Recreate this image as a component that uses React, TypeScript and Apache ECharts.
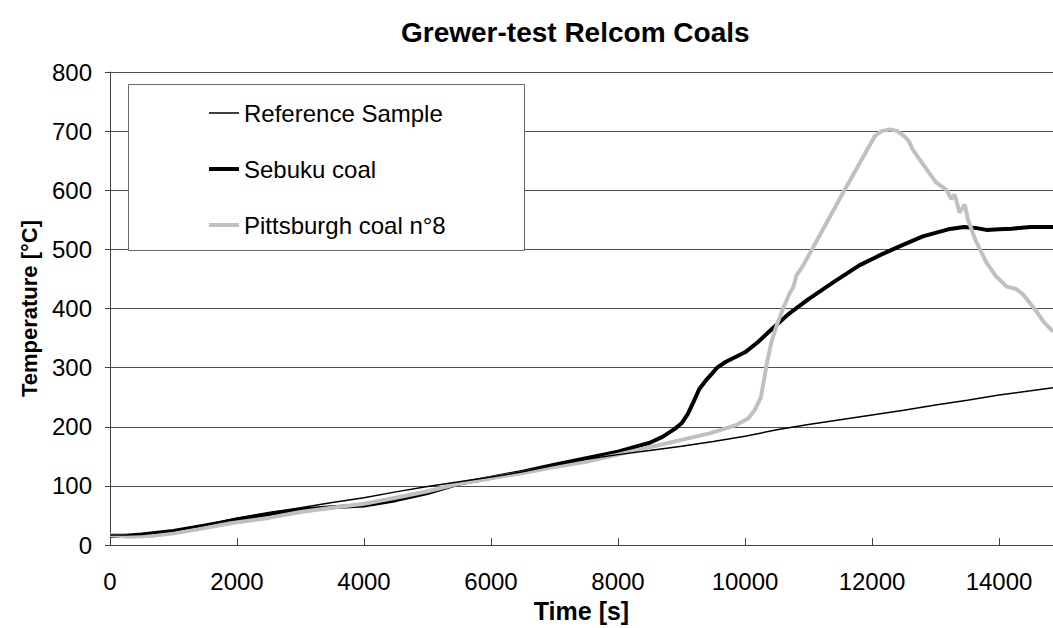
import React, { useEffect, useRef } from "react";
import * as echarts from "echarts";

const titleText = "Grewer-test Relcom Coals";
const xName = "Time [s]";
const yName = "Temperature [°C]";
const seriesNames = ["Reference Sample", "Sebuku coal", "Pittsburgh coal n°8"];

const refTime = [0, 250, 500, 1000, 1500, 2000, 2500, 3000, 3500, 4000, 4500, 5000, 5500, 6000, 6500, 7000, 7500, 8000, 8500, 9000, 9500, 10000, 10500, 11000, 11500, 12000, 12500, 13000, 13500, 14000, 14500, 14850];
const refTemp = [17, 17, 18, 24, 34, 46, 55, 63, 72, 80, 90, 99, 107, 115, 124, 135, 145, 153, 160, 167, 175, 184, 195, 204, 212, 220, 228, 237, 245, 254, 261, 266];

const sebTime = [0, 250, 500, 1000, 1500, 2000, 2500, 3000, 3500, 4000, 4500, 5000, 5500, 6000, 6500, 7000, 7500, 8000, 8500, 8700, 8900, 9000, 9100, 9180, 9280, 9380, 9480, 9560, 9700, 9850, 10000, 10200, 10450, 10700, 11000, 11400, 11800, 12100, 12450, 12800, 13200, 13450, 13650, 13800, 14000, 14200, 14500, 14850];
const sebTemp = [16, 16, 18, 24, 33, 43, 52, 60, 64, 67, 76, 88, 104, 114, 124, 136, 147, 158, 173, 183, 197, 206, 222, 240, 264, 278, 290, 300, 310, 318, 326, 343, 368, 392, 416, 445, 473, 489, 506, 522, 534, 538, 536, 533, 534, 535, 538, 538];

const pitTime = [0, 300, 700, 1000, 1400, 1900, 2500, 3000, 3500, 4000, 4500, 5000, 5500, 6000, 6500, 7000, 7500, 8000, 8600, 9000, 9440, 9860, 10050, 10150, 10250, 10300, 10350, 10420, 10500, 10600, 10700, 10760, 10810, 10900, 11060, 11300, 11540, 11800, 12040, 12150, 12280, 12400, 12510, 12580, 12630, 12750, 13010, 13170, 13250, 13300, 13380, 13460, 13510, 13620, 13800, 13950, 14120, 14270, 14370, 14590, 14700, 14850];
const pitTemp = [17, 14, 16, 20, 27, 37, 46, 56, 63, 70, 80, 91, 104, 113, 122, 132, 141, 153, 168, 178, 189, 203, 214, 228, 250, 280, 311, 345, 372, 400, 425, 436, 456, 470, 501, 548, 595, 645, 691, 700, 703, 700, 691, 683, 671, 652, 613, 601, 585, 593, 562, 576, 551, 518, 478, 455, 437, 433, 425, 395, 378, 361];

const FONT = '"Liberation Sans", Arial, sans-serif';

export default function App() {
  const ref = useRef<HTMLDivElement>(null);
  useEffect(() => {
    if (!ref.current) return;
    const chart = echarts.init(ref.current, null, { renderer: "svg" });
    const pair = (ts: number[], vs: number[]) => ts.map((t, i) => [t, vs[i]]);
    chart.setOption({
      animation: false,
      backgroundColor: "#fff",
      textStyle: { fontFamily: FONT, color: "#000" },
      title: {
        text: titleText,
        left: 396,
        top: 13,
        textStyle: { fontFamily: FONT, fontSize: 28, fontWeight: "bold", color: "#000" },
      },
      grid: { left: 110, top: 72, right: 0, bottom: 79, containLabel: false },
      graphic: [
        {
          type: "rect",
          z: 3,
          shape: { x: 128.5, y: 84.5, width: 396, height: 166 },
          style: { fill: "#fff", stroke: "#666", lineWidth: 1 },
        },
      ],
      legend: {
        z: 5,
        orient: "vertical",
        left: 202,
        top: 95,
        padding: 5,
        itemWidth: 30,
        itemHeight: 14,
        itemGap: 30,
        data: [
          { name: seriesNames[0], lineStyle: { width: 1.5, color: "#000" } },
          { name: seriesNames[1], lineStyle: { width: 4, color: "#000" } },
          { name: seriesNames[2], lineStyle: { width: 4, color: "#c0c0c0" } },
        ],
        itemStyle: { opacity: 0 },
        textStyle: { fontFamily: FONT, fontSize: 24, color: "#000", lineHeight: 26 },
      },
      xAxis: {
        type: "value",
        min: 0,
        max: 14850,
        interval: 2000,
        name: xName,
        nameLocation: "middle",
        nameGap: 44,
        nameTextStyle: { fontFamily: FONT, fontSize: 25, fontWeight: "bold", color: "#000" },
        axisLine: { show: true, lineStyle: { color: "#404040", width: 1 } },
        axisTick: { show: true, inside: true, length: 7, lineStyle: { color: "#404040" } },
        axisLabel: {
          fontFamily: FONT,
          fontSize: 24,
          color: "#000",
          margin: 24,
          showMaxLabel: false,
          formatter: (v: number) => String(v),
        },
        splitLine: { show: false },
      },
      yAxis: {
        type: "value",
        min: 0,
        max: 800,
        interval: 100,
        name: yName,
        nameLocation: "middle",
        nameGap: 70,
        nameTextStyle: { fontFamily: FONT, fontSize: 22, fontWeight: "bold", color: "#000" },
        axisLine: { show: true, lineStyle: { color: "#404040", width: 1 } },
        axisTick: { show: true, inside: false, length: 5, lineStyle: { color: "#404040" } },
        axisLabel: { fontFamily: FONT, fontSize: 24, color: "#000", margin: 18, formatter: (v: number) => String(v) },
        splitLine: { show: true, lineStyle: { color: "#4d4d4d", width: 1 } },
      },
      series: [
        {
          name: seriesNames[1],
          type: "line",
          symbol: "none",
          showSymbol: false,
          data: pair(sebTime, sebTemp),
          lineStyle: { color: "#000", width: 4 },
          itemStyle: { color: "#000" },
          z: 2,
        },
        {
          name: seriesNames[2],
          type: "line",
          symbol: "none",
          showSymbol: false,
          data: pair(pitTime, pitTemp),
          lineStyle: { color: "#c0c0c0", width: 4 },
          itemStyle: { color: "#c0c0c0" },
          z: 2,
        },
        {
          name: seriesNames[0],
          type: "line",
          symbol: "none",
          showSymbol: false,
          data: pair(refTime, refTemp),
          lineStyle: { color: "#000", width: 1.5 },
          itemStyle: { color: "#000" },
          z: 2,
        },
      ],
    });
    return () => chart.dispose();
  }, []);
  return (
    <div
      ref={ref}
      style={{ position: "fixed", left: 0, top: 0, width: 1053, height: 628 }}
    />
  );
}
